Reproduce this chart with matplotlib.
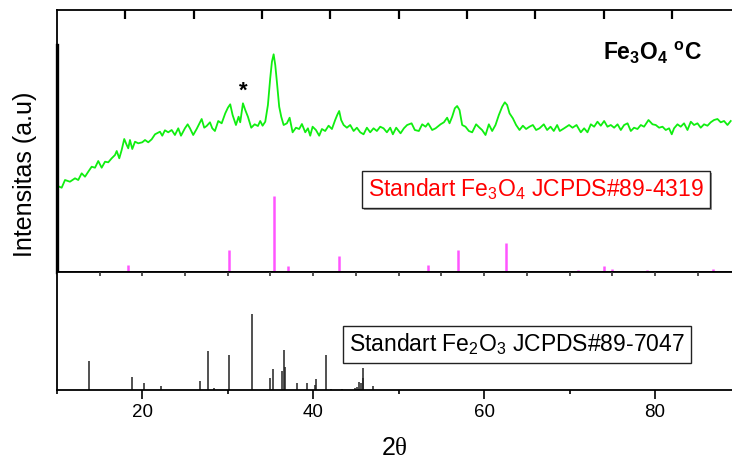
import matplotlib
matplotlib.use("Agg")
from matplotlib import pyplot as plt
from matplotlib.ticker import MultipleLocator
import matplotlib.patheffects as pe

plt.rcParams['font.family'] = ['Liberation Sans', 'DejaVu Sans']
plt.rcParams['mathtext.fontset'] = 'custom'
plt.rcParams['mathtext.rm'] = 'Liberation Sans'
plt.rcParams['mathtext.it'] = 'Liberation Sans:italic'
plt.rcParams['mathtext.bf'] = 'Liberation Sans:bold'
plt.rcParams['mathtext.sf'] = 'Liberation Serif'

# measured pattern (green)
two_theta = [10.0, 10.57, 10.96, 11.54, 12.13, 12.51, 12.91, 13.30, 13.68, 14.08,
             14.47, 14.85, 15.25, 15.64, 16.02, 16.42, 16.81, 17.01, 17.31, 17.59,
             17.89, 18.18, 18.36, 18.56, 18.83, 19.15, 19.53, 20.00, 20.32, 20.70,
             21.10, 21.49, 22.07, 22.34, 22.65, 23.04, 23.44, 23.82, 24.21, 24.53,
             24.99, 25.31, 25.58, 25.96, 26.36, 26.95, 27.25, 27.53, 27.92, 28.19,
             28.50, 28.89, 29.29, 29.71, 30.02, 30.29, 30.57, 30.96, 31.27, 31.46,
             31.78, 32.05, 32.36, 32.75, 33.15, 33.53, 33.80, 34.08, 34.39, 34.70,
             34.97, 35.17, 35.37, 35.56, 35.75, 36.02, 36.26, 36.54, 36.92, 37.24,
             37.59, 37.98, 38.36, 38.68, 39.07, 39.38, 39.65, 39.93, 40.32, 40.70,
             41.02, 41.40, 41.80, 42.19, 42.57, 42.81, 43.04, 43.27, 43.56, 43.94,
             44.33, 44.73, 45.11, 45.50, 45.89, 46.28, 46.67, 47.06, 47.45, 47.84,
             48.23, 48.62, 49.01, 49.32, 49.71, 50.22, 50.61, 50.99, 51.51, 51.89,
             52.36, 52.75, 53.15, 53.45, 53.92, 54.32, 54.90, 55.29, 55.67, 55.95,
             56.26, 56.57, 56.84, 57.12, 57.43, 57.82, 58.21, 58.60, 59.06, 59.46,
             59.76, 60.16, 60.55, 60.94, 61.33, 61.72, 62.11, 62.42, 62.69, 62.97,
             63.36, 63.74, 64.14, 64.53, 64.91, 65.31, 65.70, 66.08, 66.48, 66.98,
             67.37, 67.77, 68.15, 68.54, 68.85, 69.36, 69.94, 70.34, 70.81, 71.31,
             71.70, 72.09, 72.48, 72.87, 73.26, 73.65, 74.04, 74.43, 74.82, 75.21,
             75.61, 75.99, 76.38, 76.78, 77.16, 77.54, 77.94, 78.33, 78.71, 79.23,
             79.70, 80.08, 80.47, 80.87, 81.25, 81.64, 81.95, 82.22, 82.62, 83.00,
             83.39, 83.79, 84.18, 84.56, 84.96, 85.34, 85.73, 86.13, 86.51, 86.90,
             87.30, 87.68, 88.07, 88.47, 88.85]
intensity = [86.3, 84.3, 92, 90.3, 93.7, 92, 98.7, 95.3, 100.3, 105.3,
             104.3, 111, 104.3, 110.3, 109.7, 113.7, 117, 121, 113.7, 122,
             133, 127, 123.7, 132, 123, 130.3, 128.7, 129.7, 132, 129.7,
             132.7, 137.7, 140.3, 136.3, 141.7, 139.7, 142, 137, 143.7, 136.3,
             143.7, 147.7, 143.7, 137, 143, 153, 144.3, 146, 149.7, 143.7,
             141, 151, 148.7, 158.7, 164.3, 167.7, 157, 147, 155.3, 149.7,
             168.7, 162, 155.3, 144.3, 147.7, 146, 151, 146.3, 150.3, 167,
             193.7, 210.3, 217.7, 207, 190.3, 165.3, 155.3, 147, 148.7, 154.3,
             139.7, 144.3, 143, 148, 139.7, 143.7, 136.3, 145.3, 142, 136.3,
             143, 141, 146.3, 143, 152, 157, 161, 152, 147, 144.3,
             147, 141, 144.3, 139.7, 137.7, 144.3, 139.7, 143.7, 141, 145.3,
             143.7, 139.7, 144.3, 137.7, 144.3, 138.7, 143.7, 147, 148.7, 142,
             141, 147.7, 145.3, 148.7, 142, 143.7, 147.7, 149.7, 154.3, 148.7,
             155.3, 163.7, 166, 162, 147, 145.3, 141, 139.7, 147.7, 144.3,
             142, 137, 147.7, 141, 147, 157, 165.3, 169.7, 167, 158.7,
             153.7, 147, 142, 146.3, 143, 145.3, 147, 142, 143.7, 147.7,
             142, 145.3, 141, 147, 141, 143.7, 147, 144.3, 147, 139.7,
             143.7, 139.7, 147.7, 145.3, 150.3, 146.3, 151, 145.3, 147, 144.3,
             147.7, 142, 147, 148.7, 141, 144.3, 143, 147, 145.3, 152,
             147.7, 147, 144.3, 145.3, 142, 143.7, 137.7, 143.7, 147.7, 145.3,
             148.7, 142, 150.3, 147, 148.7, 144.3, 147.7, 146.3, 149.7, 152,
             153, 149.7, 151, 147, 151]

# reference Fe3O4 JCPDS#89-4319 (magenta)
fe3o4_pos = [18.3, 30.1, 35.45, 37.05, 43.05, 47.1, 53.45, 56.95, 62.55, 65.7,
             66.9, 71.0, 74.0, 75.0, 79.0, 86.8]
fe3o4_int = [7, 22, 76, 6, 16, 1, 7, 22, 29, 1,
             1, 2.5, 6, 3, 2, 3]

# reference Fe2O3 JCPDS#89-7047 (black)
fe2o3_pos = [13.73, 18.8, 20.2, 22.2, 26.75, 27.7, 28.4, 30.1, 32.87, 35.0,
             35.25, 36.4, 36.57, 36.7, 38.06, 39.3, 40.16, 40.3, 41.45, 42.07,
             43.4, 44.88, 45.08, 45.38, 45.54, 45.77, 45.85, 46.95]
fe2o3_int = [29.3, 13.3, 6.7, 4.3, 9.3, 39, 2.3, 35, 76, 11.7,
             21, 19.3, 40.3, 23, 7.3, 7.3, 5, 11, 35, 1,
             1, 1.7, 2.7, 8.3, 6.7, 21.7, 11.7, 4]

top_ticks = [18, 26, 34, 42, 50, 58, 66, 74, 82]
mid_ticks = [15, 20, 25, 30, 35, 40, 45, 50, 55, 60, 65, 70, 75, 80, 85]

fig = plt.figure(figsize=(7.32, 4.63), dpi=100)
ax1 = fig.add_axes([0.0776, 0.4125, 0.9224, 0.5659])
ax2 = fig.add_axes([0.0776, 0.1577, 0.9224, 0.2548])

ax1.plot(two_theta, intensity, color='#10ee10', lw=1.3)
ax1.vlines(fe3o4_pos, 0, fe3o4_int, color='#ff55ff', lw=1.8)
ax1.set_ylim(0, 262)

ax2.vlines(fe2o3_pos, 0, fe2o3_int, color='#222222', lw=1.1)
ax2.set_ylim(0, 118)

for ax in (ax1, ax2):
    ax.set_xlim(10, 89)
    ax.set_yticks([])
    ax.spines['right'].set_visible(False)
    for s in ax.spines.values():
        s.set_linewidth(1.3)

ax1.tick_params(axis='x', which='both', bottom=False, top=False,
                labelbottom=False)

# tick marks on the top border and on the shared border
ax1.vlines(top_ticks, 253, 262, color='black', lw=1.6, zorder=5)
ax2.vlines(mid_ticks, 114, 118, color='#333333', lw=1.2, zorder=5)

# dense left spine
ax1.plot([0, 0], [0, 0.865], transform=ax1.transAxes, color='black',
         lw=2.4, clip_on=False)

ax2.xaxis.set_major_locator(MultipleLocator(20))
ax2.xaxis.set_minor_locator(MultipleLocator(10))
ax2.tick_params(axis='x', which='major', direction='out', length=6.2, width=1.2,
                labelsize=13.5, pad=4)
ax2.tick_params(axis='x', which='minor', direction='out', length=3, width=1.2)
ax2.tick_params(top=False)
ax2.set_xlabel('2$\\mathsf{\\theta}$', fontsize=18, labelpad=11)

fig.text(0.034, 1 - 174 / 463, 'Intensitas (a.u)', rotation=90, fontsize=18,
         ha='center', va='center')

ax1.text(0.809, 0.836, '$\\mathbf{Fe_3O_4\\ ^oC}$', transform=ax1.transAxes,
         fontsize=16.5, ha='left', va='center')
ax1.text(0.2758, 0.69, '*', transform=ax1.transAxes, fontsize=16,
         fontweight='bold', ha='center', va='center')

t1 = ax1.text(0.7097, 0.315, 'Standart Fe$_3$O$_4$ JCPDS#89-4319',
              transform=ax1.transAxes, fontsize=16.5, color='red',
              ha='center', va='center',
              bbox=dict(boxstyle='square,pad=0.25', fc='white', ec='#222222', lw=1))
t1.get_bbox_patch().set_path_effects([
    pe.SimplePatchShadow(offset=(1.5, -1.5), shadow_rgbFace='gray', alpha=0.8),
    pe.Normal()])

ax2.text(0.6816, 0.386, 'Standart Fe$_2$O$_3$ JCPDS#89-7047',
         transform=ax2.transAxes, fontsize=16.5, color='black',
         ha='center', va='center',
         bbox=dict(boxstyle='square,pad=0.25', fc='white', ec='#222222', lw=1))

fig.savefig('out.png', dpi=100)
